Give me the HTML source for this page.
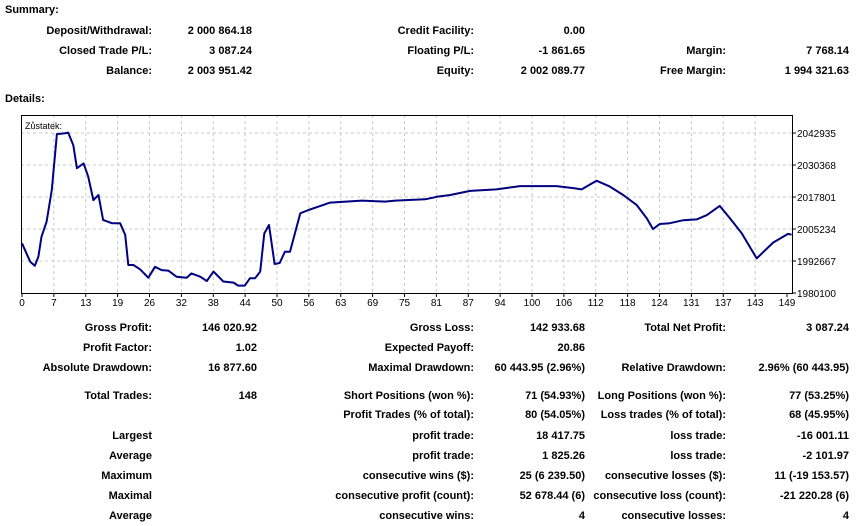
<!DOCTYPE html>
<html><head><meta charset="utf-8">
<style>
body{margin:0;width:856px;height:526px;background:#fff;position:relative;overflow:hidden;font-family:"Liberation Sans",Arial,sans-serif;font-size:11px;font-weight:bold;color:#000}
.t{position:absolute;white-space:nowrap;line-height:13px}
svg{position:absolute;left:0;top:0;font-weight:normal}
</style></head><body>
<div id="txt"></div>
<svg id="chart" width="856" height="526"></svg>
<script>
const xIdx=[0,1.6,2.5,3.2,3.8,4.8,5.8,6.8,8.4,9.0,10.0,10.7,12.0,12.9,13.9,14.9,15.8,17.5,19.1,20.1,20.7,21.7,23.0,24.6,25.9,27.2,28.5,30.1,32.1,33.0,34.7,36.0,37.3,39.2,41.2,42.1,43.4,44.4,45.4,46.4,47.2,48.1,49.2,50.2,51.2,52.2,54.2,55.8,57.7,60.0,66.2,70.7,72.7,78.5,80.4,80.8,83.4,87.3,92.4,97.0,104.1,107.4,109.0,111.9,114.5,117.1,119.7,121.7,122.9,124.2,126.2,128.8,131.4,133.4,135.9,137.9,140.2,143.1,146.3,149.2,149.9];
const balance=[1999620,1992400,1990800,1994400,2002200,2008100,2020600,2042500,2042800,2043100,2038200,2029100,2031000,2025800,2016600,2018600,2008800,2007500,2007500,2002900,1991100,1991100,1989400,1986100,1990400,1989100,1988900,1986500,1986100,1987800,1986500,1984800,1988500,1984600,1984200,1983000,1983000,1985900,1985900,1988500,2003500,2006800,1991500,1991900,1996300,1996300,2011400,2012700,2014000,2015600,2016400,2016000,2016400,2016900,2017700,2017900,2018600,2020200,2020800,2022100,2022100,2021300,2020800,2024200,2021900,2018600,2014700,2009400,2005200,2007200,2007500,2008700,2009000,2010700,2014300,2009400,2003500,1993700,1999900,2003300,2003000];
const yTicks=[1980100,1992667,2005234,2017801,2030368,2042935];
const xLabels=["0","7","13","19","26","32","38","44","50","56","63","69","75","81","87","94","100","106","112","118","124","131","137","143","149"];
const L=21,R=792,T=115,B=293;
const xs=i=>22+i*(787-22)/149;
const ys=v=>293-(v-1980100)/(2042935-1980100)*160;
const NS="http://www.w3.org/2000/svg";
const svg=document.getElementById('chart');
function mk(tag,at){const e=document.createElementNS(NS,tag);for(const k in at)e.setAttribute(k,at[k]);svg.appendChild(e);return e;}
yTicks.forEach((v,i)=>{
  const y=ys(v);
  if(i>0){const g=mk('line',{x1:L,x2:R,y1:y,y2:y,stroke:'#c8c8c8','stroke-dasharray':'3,3'});
  
  }
  const tk=mk('line',{x1:R,x2:R+4,y1:y,y2:y,stroke:'#000'});
  
  
  const t=mk('text',{x:R+5,y:y+4,'font-size':'10','font-family':'Liberation Sans, sans-serif'});
  t.textContent=v;
  
  
});
xLabels.forEach((lab,k)=>{
  const x=xs(k*149/24);
  if(k>0&&k<24){const g=mk('line',{x1:x,x2:x,y1:T,y2:B,stroke:'#c8c8c8','stroke-dasharray':'3,3'});
  
  }
  const tk=mk('line',{x1:x,x2:x,y1:B,y2:B+4,stroke:'#000'});
  
  
  const t=mk('text',{x:x,y:B+13,'font-size':'10','text-anchor':'middle','font-family':'Liberation Sans, sans-serif'});
  t.textContent=lab;
  
  
});
const fr=mk('rect',{x:L+0.5,y:T+0.5,width:R-L,height:B-T,fill:'none',stroke:'#000'});


const pl=mk('polyline',{points:xIdx.map((x,i)=>xs(x).toFixed(1)+','+ys(balance[i]).toFixed(1)).join(' '),fill:'none',stroke:'#000080','stroke-width':'2','stroke-linejoin':'round'});


const lt=mk('text',{x:25,y:129,'font-size':'9','font-family':'Liberation Sans, sans-serif'});
lt.textContent='Zůstatek:';



const cont=document.getElementById('txt');
function T2(txt,right,y,name,left){
  const d=document.createElement('div');
  d.className='t';
  if(left!==undefined){d.style.left=left+'px';}
  else{d.style.right=(856-right)+'px';}
  d.style.top=(y-5)+'px';
  d.textContent=txt;
  
  
  cont.appendChild(d);
}
T2('Summary:',0,9,'summary-heading',5);
T2('Details:',0,98,'details-heading',5);
const rows=[
 [30,'Deposit/Withdrawal:','2 000 864.18','Credit Facility:','0.00','',''],
 [50,'Closed Trade P/L:','3 087.24','Floating P/L:','-1 861.65','Margin:','7 768.14'],
 [70,'Balance:','2 003 951.42','Equity:','2 002 089.77','Free Margin:','1 994 321.63'],
 [327,'Gross Profit:','146 020.92','Gross Loss:','142 933.68','Total Net Profit:','3 087.24'],
 [347,'Profit Factor:','1.02','Expected Payoff:','20.86','',''],
 [367,'Absolute Drawdown:','16 877.60','Maximal Drawdown:','60 443.95 (2.96%)','Relative Drawdown:','2.96% (60 443.95)'],
 [395,'Total Trades:','148','Short Positions (won %):','71 (54.93%)','Long Positions (won %):','77 (53.25%)'],
 [414,'','','Profit Trades (% of total):','80 (54.05%)','Loss trades (% of total):','68 (45.95%)'],
 [435,'Largest','','profit trade:','18 417.75','loss trade:','-16 001.11'],
 [455,'Average','','profit trade:','1 825.26','loss trade:','-2 101.97'],
 [475,'Maximum','','consecutive wins ($):','25 (6 239.50)','consecutive losses ($):','11 (-19 153.57)'],
 [495,'Maximal','','consecutive profit (count):','52 678.44 (6)','consecutive loss (count):','-21 220.28 (6)'],
 [515,'Average','','consecutive wins:','4','consecutive losses:','4']
];
rows.forEach(r=>{
  const y=r[0];
  if(r[1])T2(r[1],152,y,'label');
  if(r[2])T2(r[2],y<100?252:257,y,'value');
  if(r[3])T2(r[3],474,y,'label');
  if(r[4])T2(r[4],585,y,'value');
  if(r[5])T2(r[5],726,y,'label');
  if(r[6])T2(r[6],849,y,'value');
});
</script>
</body></html>
